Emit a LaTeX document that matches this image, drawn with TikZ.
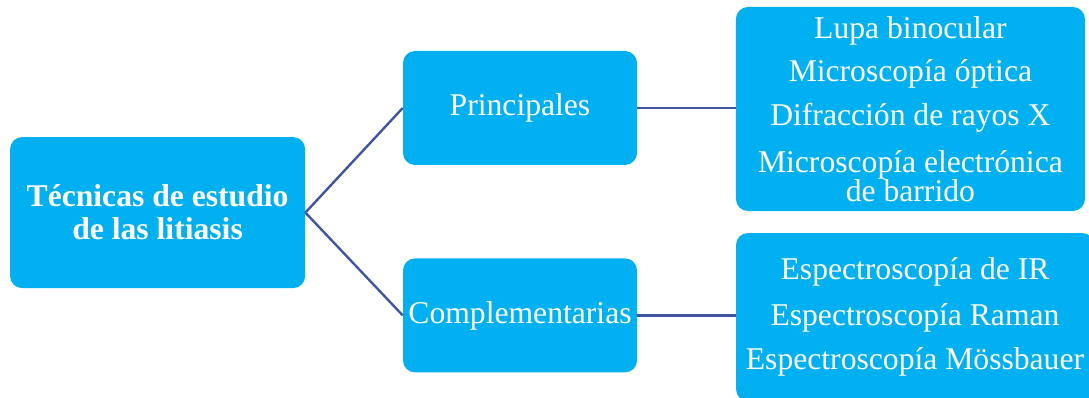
\documentclass[tikz,border=0pt]{standalone}
\usepackage{fontspec}
\setmainfont{Liberation Serif}
\usepackage{tikz}
\definecolor{cajacolor}{RGB}{0, 176, 240}
\definecolor{lineacolor}{RGB}{64, 86, 158}
\tikzstyle{caja} = [rectangle, rounded corners=0.3cm, fill=cajacolor, text=white, align=center, inner sep=0pt, font=\fontsize{22.5}{20.5}\selectfont]
\tikzstyle{raiz} = [caja, minimum width=7.375cm, minimum height=3.775cm, font=\fontsize{22.5}{23.5}\selectfont\bfseries]
\tikzstyle{grupo} = [caja, minimum width=5.85cm, minimum height=2.85cm]
\tikzstyle{lista} = [caja, minimum width=8.725cm, minimum height=5.1cm]
\tikzstyle{conector} = [draw=lineacolor, line width=1.7pt]

\begin{document}
\begin{tikzpicture}

\useasboundingbox (0,0) rectangle (27.225,9.925);
\clip (0,0) rectangle (27.225,9.925);

% Nodo raíz
\node (raiz) [raiz] at (3.94,4.61) {Técnicas de estudio\\de las litiasis};

% Grupos
\node (princ) [grupo] at (13.0,7.225) {Principales};
\node (compl) [grupo] at (13.0,2.04) {Complementarias};

% Listas de técnicas
\node (listaprinc) [lista] at (22.76,7.2) {Lupa binocular\\[10pt]Microscopía óptica\\[10pt]Difracción de rayos X\\[12pt]Microscopía electrónica\\de barrido};
\node (listacompl) [lista, minimum width=8.95cm, minimum height=4.2cm] at (22.875,2.0) {Espectroscopía de IR\\[12pt]Espectroscopía Raman\\[11pt]Espectroscopía Mössbauer};

% Conectores
\draw [conector] (raiz.east) -- (princ.west);
\draw [conector] (raiz.east) -- (compl.west);
\draw [conector] (princ.east) -- (listaprinc.west |- princ.east);
\draw [conector] (compl.east) -- (listacompl.west |- compl.east);

\end{tikzpicture}
\end{document}
